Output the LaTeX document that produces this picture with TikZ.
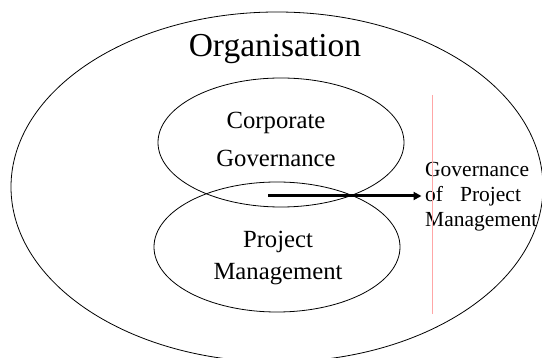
\documentclass[tikz,border=0pt]{standalone}
\usepackage{fontspec}
\setmainfont{Liberation Serif}
\usetikzlibrary{positioning,shapes.geometric,arrows.meta}

\begin{document}
\begin{tikzpicture}[x=1pt,y=-1pt,
	oval/.style={draw, ellipse, inner sep=0pt, line width=0.8pt},
	lbl/.style={inner sep=0pt, align=center, anchor=base}]
	\useasboundingbox (0,0) rectangle (542,358);
	
	\node[oval, minimum width=532pt, minimum height=350pt] (org) at (277,187) {};
	\node[oval, minimum width=246pt, minimum height=129pt] (corp) at (281,142.5) {};
	\node[oval, minimum width=246pt, minimum height=130pt] (pm) at (277,247) {};
	
	% base anchor sits on the last line
	\node[lbl, font=\fontsize{33.5}{40}\selectfont] (orgtxt) at (275,57) {Organisation};
	\node[lbl, font=\fontsize{24.7}{38}\selectfont] (corptxt) at (276,167) {Corporate\\Governance};
	\node[lbl, font=\fontsize{24.7}{32}\selectfont] (pmtxt) at (278,280) {Project\\Management};
	\node[lbl, align=left, anchor=base west, font=\fontsize{21.5}{25}\selectfont] (gpm) at (425,227)
		{Governance\\of\hspace{17pt}Project\\Management};
	
	\draw[red!35, line width=0.8pt] (432,95) -- (432,314);
	
	\coordinate (arrowstart) at (268,196);
	\draw[line width=3pt, -{Triangle[length=8pt,width=8pt]}, shorten >=3.5pt] (arrowstart) -- (arrowstart -| gpm.west);
\end{tikzpicture}
\end{document}
